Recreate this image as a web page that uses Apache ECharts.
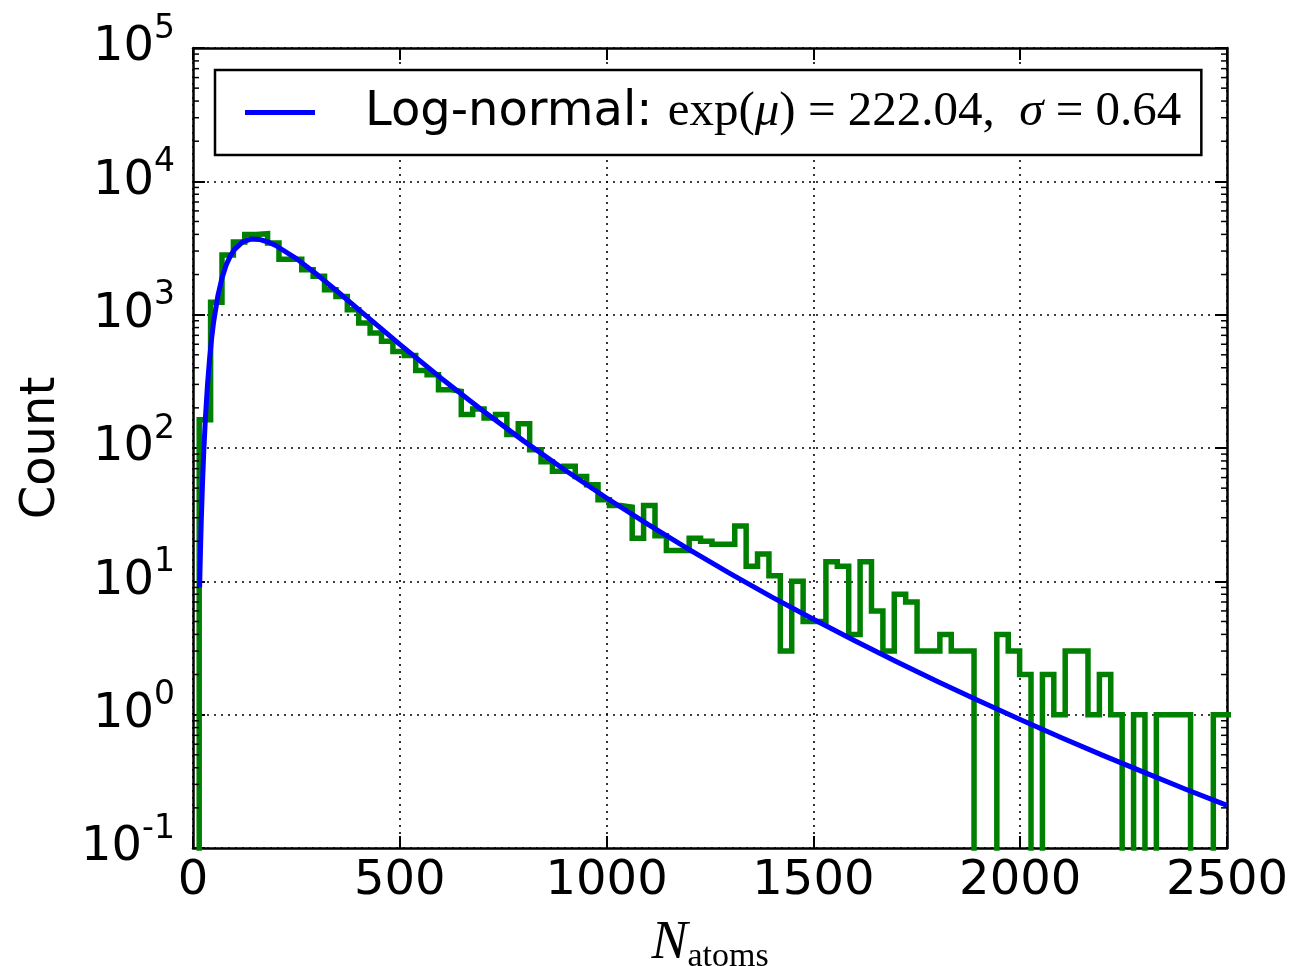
<!DOCTYPE html>
<html><head><meta charset="utf-8">
<script src="https://cdn.jsdelivr.net/npm/echarts/dist/echarts.min.js"></script>
<style>html,body{margin:0;padding:0;background:#fff}#c{width:1293px;height:966px}</style>
</head><body><div id="c"></div>
<script>
// ---- data ----
const binStart = 15;
const binWidth = 27.55;
const counts = [163,1240,2800,3500,4000,4050,3450,2600,2600,2175,
  1940,1540,1370,1090,866,729,631,530,493,382,
  355,274,266,178,196,168,178,126,152,97,
  79,67,73,61,53,41,37,36,21,37,
  22,17,17,21,20,19,19,26,13,16,
  11,3,10,5,5,14,13,4,14,6,
  3,8,7,3,3,4,3,3,0,0,
  4,3,2,0,2,1,3,3,1,2,
  1,0,1,0,1,1,1,0,0,1,1];
const fitX = [16,17,18,19,20,23,26,30,35,40,45,50,60,70,80,90,100,120,140,160,180,200,250,300,350,400,450,500,600,700,800,900,1000,1100,1200,1300,1400,1500,1600,1700,1800,1900,2000,2100,2200,2300,2400,2500];
const fitY = [8.99,12.4,16.7,22.0,28.4,54.8,93.8,167.6,296.5,463.6,663.3,887.9,1379.6,1879.7,2344.6,2748.2,3078.1,3513.0,3687.5,3669.2,3523.6,3302.2,2631.6,1997.5,1485.2,1096.2,808.9,598.8,333.9,191.2,112.6,68.07,42.17,26.71,17.27,11.38,7.62,5.19,3.58,2.50,1.77,1.27,0.919,0.672,0.495,0.369,0.276,0.209];
const xTicks = [0,500,1000,1500,2000,2500];
const yMin = 0.1, yMax = 100000;
const fitName = 'Log-normal: exp(μ) = 222.04, σ = 0.64';

// ---- build ----
const FLOOR = 0.01; // empty bins drop below the axis (clipped)
const histPts = [[binStart, FLOOR]];
counts.forEach((c, i) => {
  const y = c > 0 ? c : FLOOR;
  histPts.push([binStart + i * binWidth, y], [binStart + (i + 1) * binWidth, y]);
});
const fitPts = fitX.map((x, i) => [x, fitY[i]]);
const minorVals = [];
for (let e = -1; e < 5; e++) for (let m = 2; m <= 9; m++) minorVals.push([0, m * Math.pow(10, e)]);

const FONT = 'DejaVu Sans';
const SERIF = 'Liberation Serif';
const black = '#000';
const dotted = {color: black, type: [2, 5], width: 1.6};

const chart = echarts.init(document.getElementById('c'), null, {renderer: 'canvas'});
const xCommon = {type: 'value', min: xTicks[0], max: xTicks[xTicks.length - 1], interval: 500,
  axisLine: {show: true, onZero: false, lineStyle: {color: black, width: 2.5}},
  axisTick: {show: true, inside: true, length: 12, lineStyle: {color: black, width: 2}}};
const yCommon = {type: 'log', logBase: 10, min: yMin, max: yMax,
  axisLine: {show: true, onZero: false, lineStyle: {color: black, width: 2.5}},
  axisTick: {show: true, inside: true, length: 12, lineStyle: {color: black, width: 2}}};

chart.setOption({
  animation: false,
  backgroundColor: '#fff',
  grid: {left: 193, top: 48, right: 66, bottom: 118, containLabel: false, outerBoundsMode: 'none'},
  xAxis: [
    Object.assign({}, xCommon, {position: 'bottom',
      axisLabel: {fontSize: 48, fontFamily: FONT, color: black, margin: 10, formatter: v => String(v)},
      splitLine: {show: true, lineStyle: dotted},
      name: '{n|N}{s|atoms}', nameLocation: 'middle', nameGap: 66,
      nameTextStyle: {rich: {
        n: {fontFamily: SERIF, fontStyle: 'italic', fontSize: 54, color: black, lineHeight: 60, verticalAlign: 'middle'},
        s: {fontFamily: SERIF, fontSize: 34, color: black, lineHeight: 34, verticalAlign: 'bottom'}
      }}}),
    Object.assign({}, xCommon, {position: 'top', axisLabel: {show: false}, splitLine: {show: false}})
  ],
  yAxis: [
    Object.assign({}, yCommon, {position: 'left',
      axisLabel: {margin: 18, formatter: v => {
          const e = Math.round(Math.log10(v));
          return '{b|10}{s|' + e + '}';
        },
        rich: {
          b: {fontSize: 48, fontFamily: FONT, color: black, lineHeight: 71, verticalAlign: 'middle'},
          s: {fontSize: 33, fontFamily: FONT, color: black, lineHeight: 33, verticalAlign: 'top'}
        }},
      splitLine: {show: true, lineStyle: dotted},
      name: 'Count', nameLocation: 'middle', nameGap: 127, nameRotate: 90,
      nameTextStyle: {fontSize: 48, fontFamily: FONT, color: black}}),
    Object.assign({}, yCommon, {position: 'right', axisLabel: {show: false}, splitLine: {show: false}})
  ],
  legend: {
    left: 215, top: 70, orient: 'horizontal', selectedMode: false,
    padding: [18, 20, 18, 30],
    borderColor: black, borderWidth: 2.5, backgroundColor: '#fff',
    itemWidth: 70, itemHeight: 5,
    data: [{name: fitName, icon: 'rect'}],
    formatter: () => '{g| }{a|Log-normal: }{m|exp(}{i|μ}{m|) = 222.04,  }{i|σ}{m| = 0.64}',
    textStyle: {rich: {
      g: {width: 45, fontSize: 48, lineHeight: 50},
      a: {fontFamily: FONT, fontSize: 48, color: black, lineHeight: 50},
      m: {fontFamily: SERIF, fontSize: 49, color: black, lineHeight: 50},
      i: {fontFamily: SERIF, fontStyle: 'italic', fontSize: 49, color: black, lineHeight: 50}
    }}
  },
  series: [
    {type: 'line', name: 'histogram', xAxisIndex: 0, yAxisIndex: 0, data: histPts,
      showSymbol: false, symbol: 'none', clip: true, z: 2,
      lineStyle: {color: '#008000', width: 5.5, join: 'miter', cap: 'butt'}},
    {type: 'line', name: fitName, xAxisIndex: 0, yAxisIndex: 0, data: fitPts,
      showSymbol: false, symbol: 'none', clip: true, z: 3, smooth: false,
      color: '#0000ff', itemStyle: {color: '#0000ff'},
      lineStyle: {color: '#0000ff', width: 5, join: 'round', cap: 'butt'}},
    {type: 'custom', name: 'minor', xAxisIndex: 0, yAxisIndex: 0, data: minorVals, silent: true, z: 4,
      renderItem: (params, api) => {
        const v = api.value(1);
        const a = api.coord([xTicks[0], v]);
        const b = api.coord([xTicks[xTicks.length - 1], v]);
        return {type: 'group', children: [
          {type: 'line', shape: {x1: a[0], y1: a[1], x2: a[0] + 6, y2: a[1]}, style: {stroke: black, lineWidth: 1.5}},
          {type: 'line', shape: {x1: b[0] - 6, y1: b[1], x2: b[0], y2: b[1]}, style: {stroke: black, lineWidth: 1.5}}
        ]};
      }}
  ]
});
</script></body></html>
